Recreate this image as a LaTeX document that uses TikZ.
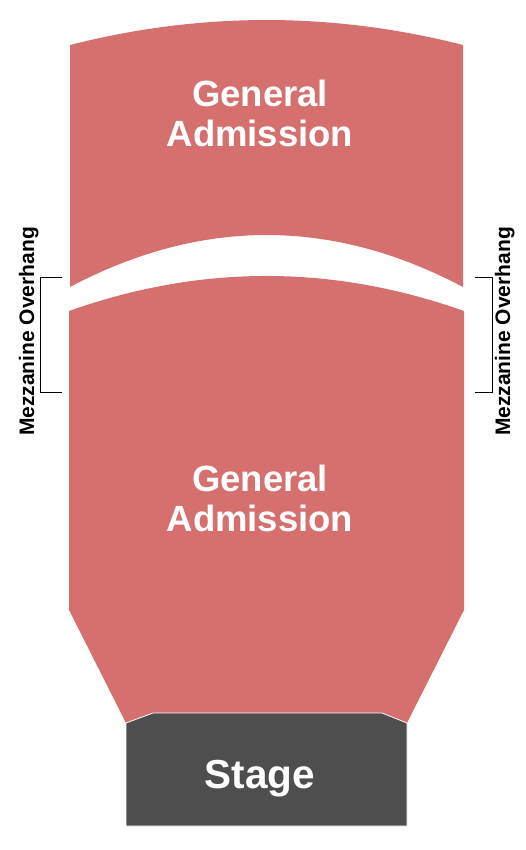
\documentclass[tikz,border=0pt]{standalone}
\usepackage{fontspec}
\setmainfont{Liberation Sans}
\definecolor{gared}{RGB}{214,112,111}
\definecolor{stagegray}{RGB}{78,78,78}
\tikzset{
  gasection/.style={fill=gared, draw=none},
  stagebox/.style={fill=stagegray, draw=white, line width=0.8pt, line join=miter},
  galabel/.style={text=white, font=\bfseries\fontsize{36.5}{40}\selectfont, align=center},
  stagelabel/.style={text=white, font=\bfseries\fontsize{40.5}{44}\selectfont},
  mezlabel/.style={text=black, font=\bfseries\fontsize{21}{24}\selectfont, rotate=90, anchor=base},
  bracket/.style={draw=black, line width=0.9pt}
}
\begin{document}
\begin{tikzpicture}[x=1pt,y=-1pt]
\useasboundingbox (0,0) rectangle (525,850);
% upper GA section
\path[gasection] (70,45) .. controls (201,11.7) and (332,11.7) .. (463,45)
  -- (463,287) .. controls (332,217.7) and (201,217.7) .. (70,287) -- cycle;
% lower GA section
\path[gasection] (69,311) .. controls (201,264.3) and (332,264.3) .. (464,311)
  -- (464,610) -- (407,723) -- (382,713) -- (153,713) -- (126,723) -- (69,610) -- cycle;
% stage
\path[stagebox] (126,723) -- (153,713) -- (382,713) -- (407,723) -- (407,826) -- (126,826) -- cycle;
% labels
\node[galabel] (ga1) at (260,113) {General\\Admission};
\node[galabel] (ga2) at (260,498) {General\\Admission};
\node[stagelabel, anchor=base] (stg) at (260,788) {Stage};
% mezzanine brackets
\coordinate (l1) at (62,277); \coordinate (l2) at (40,277);
\coordinate (l3) at (40,392); \coordinate (l4) at (62,392);
\draw[bracket] (l1) -- (l2) -- (l3) -- (l4);
\coordinate (r1) at (475,277); \coordinate (r2) at (492,277);
\coordinate (r3) at (492,392); \coordinate (r4) at (475,392);
\draw[bracket] (r1) -- (r2) -- (r3) -- (r4);
\node[mezlabel] (mezl) at (34,331.5) {Mezzanine Overhang};
\node[mezlabel] (mezr) at (510,331.5) {Mezzanine Overhang};
\end{tikzpicture}
\end{document}
